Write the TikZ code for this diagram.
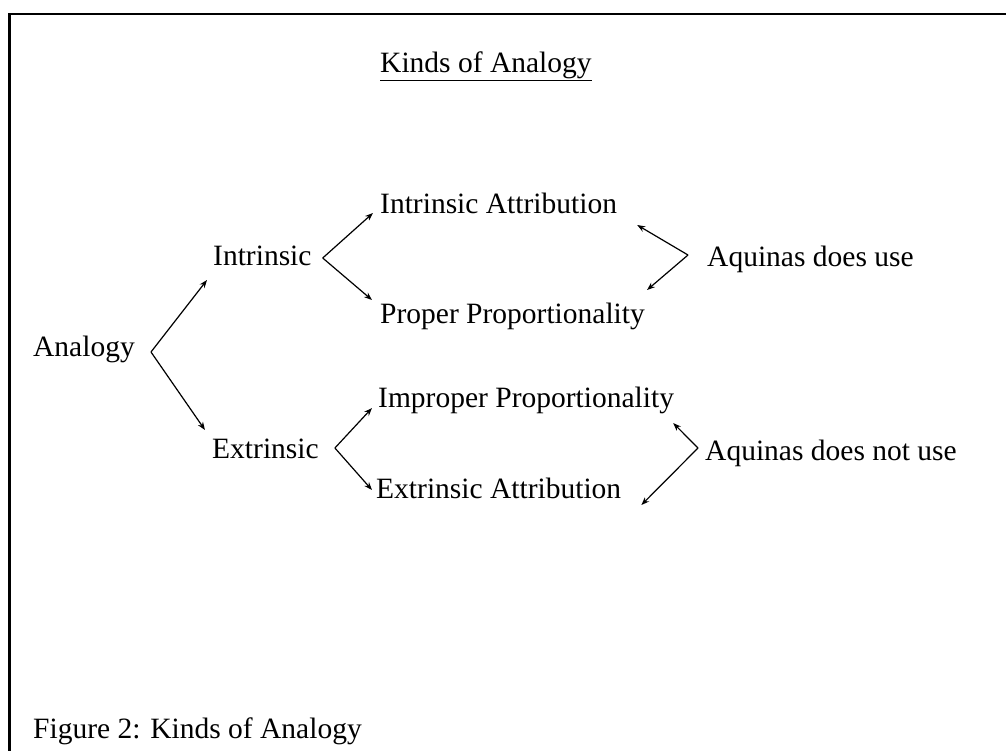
\documentclass[tikz,border=0pt]{standalone}
\usepackage{fontspec}
\setmainfont{Liberation Serif}
\usetikzlibrary{arrows.meta,calc}
\tikzset{
  lbl/.style={anchor=base west, inner sep=0pt, font=\fontsize{29.5}{34}\selectfont},
  arr/.style={-{Stealth[length=8pt,width=6pt]}, line width=1.2pt},
}
\begin{document}
\begin{tikzpicture}[x=1pt,y=-1pt]
	\useasboundingbox (0,0) rectangle (1006,750);
	\fill[white] (0,0) rectangle (1006,750);
	% frame, open to the right and at the bottom
	\draw[line width=2.7pt] (9.3,760) -- (9.3,14) -- (1016,14);

	\node[lbl] (title) at (380,72) {\underline{Kinds of Analogy}};

	% the tree
	\node[lbl] (analogy) at (33,356) {Analogy};
	\node[lbl] (intr) at (213,265) {Intrinsic};
	\node[lbl] (extr) at (212,458) {Extrinsic};
	\node[lbl] (ia) at (380,213) {Intrinsic Attribution};
	\node[lbl] (pp) at (380,323) {Proper Proportionality};
	\node[lbl] (ip) at (378,407) {Improper Proportionality};
	\node[lbl] (ea) at (376,498) {Extrinsic Attribution};
	\node[lbl] (use) at (707,266) {Aquinas does use};
	\node[lbl] (notuse) at (705,460) {Aquinas does not use};

	\node[lbl] (caption) at (33,738) {Figure 2: Kinds of Analogy};

	% forks
	\coordinate (fa) at ($(analogy.base east)+(16,-4)$);
	\coordinate (fi) at ($(intr.base east)+(11,-7)$);
	\coordinate (fe) at ($(extr.base east)+(16,-10)$);
	\coordinate (fu) at ($(use.base west)+(-19,-11)$);
	\coordinate (fn) at ($(notuse.base west)+(-7,-12)$);

	\draw[arr] (fa) -- ($(intr.base west)+(-6,15)$);
	\draw[arr] (fa) -- ($(extr.base west)+(-7,-28)$);
	\draw[arr] (fi) -- ($(ia.base west)+(-7,0)$);
	\draw[arr] (fi) -- ($(pp.base west)+(-8,-23)$);
	\draw[arr] (fe) -- ($(ip.base west)+(-6,1)$);
	\draw[arr] (fe) -- ($(ea.base west)+(-4,-8)$);

	% what Aquinas uses
	\draw[arr] (fu) -- ($(ia.base east)+(20,12)$);
	\draw[arr] (fu) -- ($(pp.base east)+(2,-33)$);
	\draw[arr] (fn) -- ($(ip.base east)+(-1,16)$);
	\draw[arr] (fn) -- ($(ea.base east)+(20,7)$);
\end{tikzpicture}
\end{document}
